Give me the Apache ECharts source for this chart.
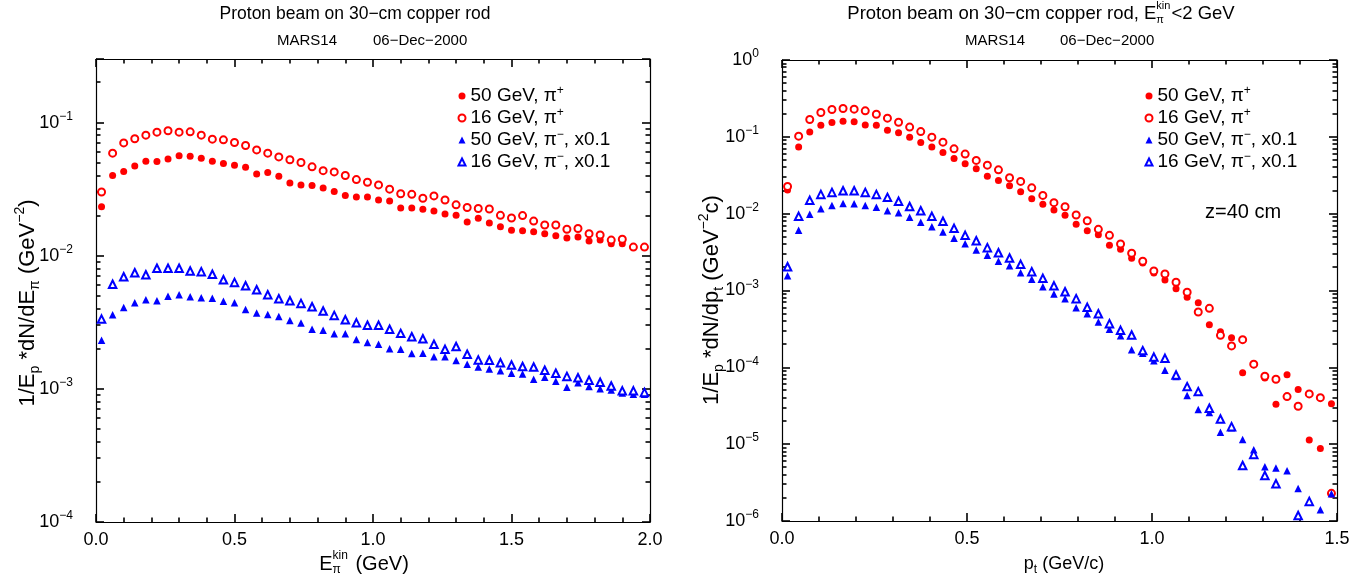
<!DOCTYPE html>
<html><head><meta charset="utf-8">
<script src="https://cdn.jsdelivr.net/npm/echarts@6/dist/echarts.min.js"></script>
<style>html,body{margin:0;padding:0;background:#fff}#c{width:1366px;height:579px}</style>
</head><body><div id="c"></div>
<script>
const FONT = '"Liberation Sans", Arial, Helvetica, sans-serif';

// ---------- data ----------
const names = ['50 GeV, π+', '16 GeV, π+', '50 GeV, π−, x0.1', '16 GeV, π−, x0.1'];

const xLeft = [0.02,0.06,0.10,0.14,0.18,0.22,0.26,0.30,0.34,0.38,0.42,0.46,0.50,0.54,0.58,0.62,0.66,0.70,0.74,0.78,0.82,0.86,0.90,0.94,0.98,1.02,1.06,1.10,1.14,1.18,1.22,1.26,1.30,1.34,1.38,1.42,1.46,1.50,1.54,1.58,1.62,1.66,1.70,1.74,1.78,1.82,1.86,1.90,1.94,1.98];

const leftPip50 = [0.0233,0.040,0.0428,0.0472,0.0513,0.051,0.0533,0.0562,0.0559,0.054,0.0513,0.0492,0.0478,0.0462,0.0411,0.0421,0.0395,0.0352,0.034,0.0336,0.0323,0.0303,0.0283,0.0276,0.0276,0.0262,0.0258,0.0228,0.0228,0.0223,0.0217,0.0206,0.0201,0.0179,0.0191,0.0176,0.0165,0.0155,0.0154,0.0151,0.0146,0.0141,0.0136,0.0138,0.0129,0.0131,0.0123,0.0123,0.0116,0.0116];
const leftPip16 = [0.0301,0.0589,0.0703,0.0755,0.0804,0.0847,0.0867,0.0847,0.0851,0.0804,0.075,0.0741,0.0708,0.0672,0.0623,0.0589,0.0552,0.0525,0.0501,0.0465,0.0435,0.0426,0.040,0.0373,0.0356,0.034,0.0316,0.0292,0.0289,0.027,0.0281,0.0262,0.0241,0.023,0.0226,0.0224,0.0201,0.0192,0.020,0.0182,0.017,0.017,0.0158,0.016,0.0146,0.0143,0.0131,0.0133,0.0116,0.0116];
const leftPim50 = [0.00232,0.0036,0.00409,0.00443,0.00467,0.00459,0.00495,0.00509,0.00492,0.00483,0.00478,0.00454,0.00443,0.00395,0.00371,0.00362,0.0035,0.00326,0.00312,0.0028,0.00275,0.00259,0.00259,0.00235,0.00223,0.00216,0.002,0.00198,0.00184,0.00185,0.00174,0.00174,0.00163,0.00153,0.00146,0.00141,0.00137,0.00131,0.00129,0.00118,0.00122,0.00114,0.00103,0.00111,0.00104,0.001,0.00098,0.00093,0.00091,0.00091];
const leftPim16 = [0.00334,0.0061,0.00695,0.00745,0.0072,0.00804,0.00804,0.00804,0.00767,0.00759,0.00725,0.0066,0.0063,0.00594,0.00555,0.00509,0.00475,0.00459,0.00438,0.00414,0.00384,0.00356,0.0033,0.00313,0.003,0.003,0.0028,0.00261,0.00246,0.00238,0.00216,0.00198,0.00208,0.00182,0.00165,0.00164,0.00157,0.00151,0.00147,0.00146,0.00138,0.00131,0.00124,0.00121,0.00116,0.00112,0.00105,0.000966,0.000966,0.00094];

const xRight = [0.015,0.045,0.075,0.105,0.135,0.165,0.195,0.225,0.255,0.285,0.315,0.345,0.375,0.405,0.435,0.465,0.495,0.525,0.555,0.585,0.615,0.645,0.675,0.705,0.735,0.765,0.795,0.825,0.855,0.885,0.915,0.945,0.975,1.005,1.035,1.065,1.095,1.125,1.155,1.185,1.215,1.245,1.275,1.305,1.335,1.365,1.395,1.425,1.455,1.485];

const rightPip50 = [0.0203,0.0735,0.116,0.141,0.154,0.16,0.157,0.143,0.141,0.122,0.113,0.099,0.0845,0.0735,0.0627,0.0523,0.0446,0.0384,0.0308,0.0271,0.0231,0.0193,0.0156,0.0133,0.0112,0.00951,0.00726,0.006,0.00532,0.00387,0.00343,0.00262,0.00228,0.00169,0.00137,0.00105,0.000817,0.000695,0.000359,0.000291,0.000243,0.0000853,0.000108,0.0000728,0.0000331,0.0000803,0.0000513,0.0000113,0.00000877,0.0000337];
const rightPip16 = [0.0226,0.102,0.168,0.207,0.227,0.234,0.229,0.218,0.197,0.175,0.155,0.134,0.117,0.099,0.0853,0.0698,0.0596,0.0493,0.0428,0.0372,0.0293,0.0263,0.0217,0.0173,0.0139,0.0123,0.0096,0.0081,0.00625,0.00522,0.00403,0.00305,0.0024,0.0018,0.00164,0.00128,0.000948,0.000525,0.000586,0.000261,0.00019,0.000229,0.00011,0.0000766,0.00007,0.0000416,0.0000312,0.0000451,0.0000403,0.00000229];
const rightPim50 = [0.00156,0.00607,0.0098,0.0116,0.0128,0.0136,0.0135,0.0128,0.0121,0.0109,0.0103,0.00895,0.00771,0.00676,0.00577,0.00478,0.00406,0.00336,0.00287,0.0024,0.0021,0.0017,0.0014,0.00112,0.0009,0.000783,0.000598,0.000499,0.000389,0.000313,0.000258,0.00017,0.000152,0.000122,0.0000916,0.000076,0.0000429,0.0000282,0.0000258,0.0000143,0.0000163,0.0000115,0.00000847,0.00000507,0.00000489,0.00000452,0.00000265,0.0000018,0.0000014,0.00000227];
const rightPim16 = [0.00204,0.00923,0.0149,0.0178,0.0189,0.0199,0.0199,0.0189,0.0178,0.0163,0.0145,0.0124,0.0109,0.00923,0.00795,0.00644,0.00522,0.00445,0.00361,0.0031,0.00265,0.00219,0.00176,0.00144,0.00115,0.000964,0.000783,0.000604,0.000499,0.00037,0.000303,0.000264,0.000165,0.000136,0.000131,0.0000796,0.0000561,0.0000483,0.0000294,0.0000213,0.0000169,0.00000527,0.00000736,0.00000391,0.00000306,null,0.00000118,0.0000018,null,null];

const leftXTicks = [0, 0.5, 1.0, 1.5, 2.0];
const rightXTicks = [0, 0.5, 1.0, 1.5];

// ---------- helpers ----------
const ctx = document.createElement('canvas').getContext('2d');
function tw(t, s) { ctx.font = s + 'px ' + FONT; return ctx.measureText(t).width; }
function mathText(cx, cy, segs, rot, align) {
  let x = 0, stackW = 0; const children = [];
  for (const g of segs) {
    const w = tw(g.t, g.s);
    children.push({ type: 'text', x: x, y: g.dy || 0, silent: true,
      style: { text: g.t, font: g.s + 'px ' + FONT, fill: '#000', textAlign: 'left', textVerticalAlign: 'middle', align: 'left', verticalAlign: 'middle' } });
    if (g.adv === false) stackW = Math.max(stackW, w);
    else { x += Math.max(w, stackW) + (g.gap || 0); stackW = 0; }
  }
  const off = align === 'left' ? 0 : -x / 2;
  children.forEach(c => c.x += off);
  return { type: 'group', x: cx, y: cy, rotation: rot || 0, children };
}
function plain(x, y, t, s, align) {
  return { type: 'text', x, y, silent: true, style: { text: t, font: s + 'px ' + FONT, fill: '#000', textAlign: align || 'center', textVerticalAlign: 'middle', align: align || 'center', verticalAlign: 'middle' } };
}
function minorVals(lo, hi) {
  const out = [];
  for (let e = Math.floor(Math.log10(lo)); e <= Math.ceil(Math.log10(hi)); e++)
    for (let k = 2; k <= 9; k++) { const v = k * Math.pow(10, e); if (v > lo * 1.0001 && v < hi * 0.9999) out.push(v); }
  return out;
}
const richLabel = {
  b: { fontSize: 18, fontFamily: FONT, color: '#000', lineHeight: 22 },
  s: { fontSize: 12, fontFamily: FONT, color: '#000', lineHeight: 10, padding: [0, 0, 12, 0] }
};
function powLabel(v) {
  const l = Math.log10(v), e = Math.round(l);
  if (Math.abs(l - e) > 0.01) return '';
  return '{b|10}{s|' + (e < 0 ? '−' + (-e) : e) + '}';
}
const TICK = '#000';
const TW = 1.6;
function ls() { return { color: TICK, width: TW }; }
function xAx(gi, pos, max, ticks) {
  return { type: 'value', gridIndex: gi, position: pos, min: 0, max: max, interval: 0.5,
    axisLine: { show: true, onZero: false, lineStyle: { color: '#000', width: 1.2 } },
    axisTick: { show: true, inside: true, length: 8, lineStyle: ls() },
    minorTick: { show: true, splitNumber: 5, length: 4.5, lineStyle: ls() },
    splitLine: { show: false }, minorSplitLine: { show: false },
    axisLabel: { show: pos === 'bottom', margin: 9, fontSize: 18, fontFamily: FONT, color: '#000',
      formatter: v => (ticks.some(t => Math.abs(t - v) < 1e-9) ? v.toFixed(1) : '') } };
}
function yAx(gi, pos, lo, hi) {
  return { type: 'log', logBase: 10, gridIndex: gi, position: pos, min: lo, max: hi,
    axisLine: { show: true, onZero: false, lineStyle: { color: '#000', width: 1.2 } },
    axisTick: { show: true, inside: true, length: 8, lineStyle: ls() },
    splitLine: { show: false },
    axisLabel: { show: pos === 'left', margin: 23, formatter: powLabel, rich: richLabel } };
}
function sc(name, xs, ys, gi, symbol, color) {
  const empty = symbol.indexOf('empty') === 0;
  return { type: 'scatter', name, xAxisIndex: gi * 2, yAxisIndex: gi * 2, symbol,
    symbolSize: symbol.indexOf('ircle') >= 0 ? 7 : 7.5,
    data: xs.map((x, i) => [x, ys[i]]).filter(d => d[1] != null),
    itemStyle: { color, borderColor: color, borderWidth: empty ? 1 : 0, opacity: 1 },
    emphasis: { disabled: true }, silent: true };
}
function minorSeries(gi, xmax, lo, hi) {
  return { type: 'custom', xAxisIndex: gi * 2, yAxisIndex: gi * 2, silent: true,
    encode: { x: 0, y: 1 },
    data: minorVals(lo, hi).map(v => [0, v]),
    renderItem: (p, api) => {
      const v = api.value(1); const a = api.coord([0, v]); const b = api.coord([xmax, v]);
      const y = Math.round(a[1]);
      return { type: 'group', children: [
        { type: 'line', shape: { x1: a[0], y1: y, x2: a[0] + 4.5, y2: y }, style: { stroke: TICK, lineWidth: TW } },
        { type: 'line', shape: { x1: b[0], y1: y, x2: b[0] - 4.5, y2: y }, style: { stroke: TICK, lineWidth: TW } } ] };
    } };
}
const legendFmt = {
  '50 GeV, π+': '{a|50 GeV, π}{s|+}',
  '16 GeV, π+': '{a|16 GeV, π}{s|+}',
  '50 GeV, π−, x0.1': '{a|50 GeV, π}{s|−}{a|, x0.1}',
  '16 GeV, π−, x0.1': '{a|16 GeV, π}{s|−}{a|, x0.1}'
};
function legend(left) {
  return { left, top: 80, orient: 'vertical', itemGap: 0, itemWidth: 7, itemHeight: 7, symbolKeepAspect: true,
    selectedMode: false, data: names, formatter: n => legendFmt[n],
    textStyle: { rich: {
      a: { fontSize: 19, fontFamily: FONT, color: '#000', lineHeight: 20 },
      s: { fontSize: 12, fontFamily: FONT, color: '#000', lineHeight: 10, padding: [0, 0, 10, 0] } } } };
}

const RED = '#ff0000', BLUE = '#0000ff';
const option = {
  animation: false,
  backgroundColor: '#fff',
  grid: [
    { left: 96, top: 59, width: 554, height: 463 },
    { left: 782, top: 60, width: 555, height: 461 }
  ],
  xAxis: [ xAx(0, 'bottom', 2, leftXTicks), xAx(0, 'top', 2, leftXTicks), xAx(1, 'bottom', 1.5, rightXTicks), xAx(1, 'top', 1.5, rightXTicks) ],
  yAxis: [ yAx(0, 'left', 1e-4, 0.3), yAx(0, 'right', 1e-4, 0.3), yAx(1, 'left', 1e-6, 1), yAx(1, 'right', 1e-6, 1) ],
  legend: [ legend(452.5), legend(1139.5) ],
  series: [
    minorSeries(0, 2, 1e-4, 0.3), minorSeries(1, 1.5, 1e-6, 1),
    sc(names[0], xLeft, leftPip50, 0, 'circle', RED),
    sc(names[1], xLeft, leftPip16, 0, 'emptyCircle', RED),
    sc(names[2], xLeft, leftPim50, 0, 'triangle', BLUE),
    sc(names[3], xLeft, leftPim16, 0, 'emptyTriangle', BLUE),
    sc(names[0], xRight, rightPip50, 1, 'circle', RED),
    sc(names[1], xRight, rightPip16, 1, 'emptyCircle', RED),
    sc(names[2], xRight, rightPim50, 1, 'triangle', BLUE),
    sc(names[3], xRight, rightPim16, 1, 'emptyTriangle', BLUE)
  ],
  graphic: [
    plain(355, 14, 'Proton beam on 30−cm copper rod', 17.5),
    plain(277, 41, 'MARS14', 15, 'left'),
    plain(373, 41, '06−Dec−2000', 15, 'left'),
    mathText(1041, 14, [{ t: 'Proton beam on 30−cm copper rod, E', s: 18.5 }, { t: 'π', s: 11, dy: 6, adv: false }, { t: 'kin', s: 11, dy: -8, gap: 1 }, { t: '<2 GeV', s: 18.5 }]),
    plain(965, 41, 'MARS14', 15, 'left'),
    plain(1060, 41, '06−Dec−2000', 15, 'left'),
    mathText(364, 564, [{ t: 'E', s: 20 }, { t: 'π', s: 12, dy: 6, adv: false }, { t: 'kin', s: 12, dy: -8, gap: 2 }, { t: ' (GeV)', s: 20 }]),
    mathText(1064, 564, [{ t: 'p', s: 18 }, { t: 't', s: 12, dy: 6 }, { t: ' (GeV/c)', s: 18 }]),
    mathText(28, 303, [{ t: '1/E', s: 22 }, { t: 'p', s: 14, dy: 7 }, { t: ' *dN/dE', s: 22 }, { t: 'π', s: 14, dy: 7 }, { t: ' (GeV', s: 22 }, { t: '−2', s: 14, dy: -8 }, { t: ')', s: 22 }], Math.PI / 2),
    mathText(712, 300, [{ t: '1/E', s: 22 }, { t: 'p', s: 14, dy: 7 }, { t: ' *dN/dp', s: 22 }, { t: 't', s: 14, dy: 7 }, { t: ' (GeV', s: 22 }, { t: '−2', s: 14, dy: -8 }, { t: 'c)', s: 22 }], Math.PI / 2),
    plain(1205, 212, 'z=40 cm', 20, 'left')
  ]
};
const chart = echarts.init(document.getElementById('c'), null, { renderer: 'canvas' });
chart.setOption(option);
</script></body></html>
